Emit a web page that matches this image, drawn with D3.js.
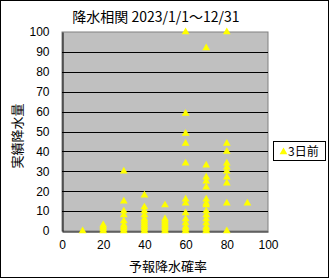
<!DOCTYPE html>
<html>
<head>
<meta charset="utf-8">
<script src="https://cdn.jsdelivr.net/npm/d3@7"></script>
<style>
  body { margin: 0; background: #fff; }
  text { font-family: "Liberation Sans", Arial, sans-serif; }
  .jp { font-family: "Noto Sans CJK JP", sans-serif; }
</style>
</head>
<body>
<div class="chart"></div>
<script>
//Data: forecast probability (%) -> observed rainfall (mm), 3 days ahead
var probs = [10, 20, 20, 20, 20,
  30, 30, 30, 30, 30, 30, 30, 30, 30,
  40, 40, 40, 40, 40, 40, 40, 40, 40, 40, 40,
  50, 50, 50, 50, 50, 50, 50, 50,
  60, 60, 60, 60, 60, 60, 60, 60, 60, 60, 60, 60, 60,
  70, 70, 70, 70, 70, 70, 70, 70, 70, 70, 70, 70, 70, 70, 70,
  80, 80, 80, 80, 80, 80, 80, 80, 80, 80,
  90];
var rain = [0, 0, 1, 2, 3,
  30, 15, 10, 8, 5, 3, 2, 1, 0,
  18, 12, 10, 8, 6, 5, 4, 3, 2, 1, 0,
  13, 6, 5, 4, 3, 2, 1, 0,
  100, 59, 49, 44, 34, 16, 14, 9, 6, 4, 2, 1, 0,
  92, 33, 27, 25, 22, 16, 14, 13, 10, 8, 6, 4, 2, 1, 0,
  100, 44, 40, 34, 32, 30, 27, 24, 14, 0,
  14];
var xTicks = [0, 20, 40, 60, 80, 100];
var yTicks = [0, 10, 20, 30, 40, 50, 60, 70, 80, 90, 100];
var seriesName = "3日前";

//Width and height
var w = 330;
var h = 279;
var plot = {left: 62, top: 32, right: 268, bottom: 231};

var svg = d3.select(".chart")
    .append("svg")
    .attr("width", w)
    .attr("height", h);

//Outer frame
svg.append("rect")
    .attr("x", 0.5).attr("y", 0.5)
    .attr("width", 328).attr("height", 277)
    .attr("fill", "#fff")
    .attr("stroke", "#000");

//Scales
var x = d3.scaleLinear().domain([0, 100]).range([plot.left, plot.right]);
var y = d3.scaleLinear().domain([0, 100]).range([plot.bottom, plot.top]);

//Plot area
svg.append("rect")
    .attr("x", plot.left).attr("y", plot.top)
    .attr("width", plot.right - plot.left)
    .attr("height", plot.bottom - plot.top)
    .attr("fill", "#c0c0c0")
    .attr("stroke", "#808080");

//Gridlines
svg.append("g")
    .selectAll("line")
    .data(yTicks.filter(d => d > 0 && d < 100))
    .join("line")
    .attr("x1", plot.left).attr("x2", plot.right)
    .attr("y1", d => Math.round(y(d)) + 0.5)
    .attr("y2", d => Math.round(y(d)) + 0.5)
    .attr("stroke", "#000");

//Y axis
svg.append("g")
    .attr("transform", "translate(" + (plot.left + 0.5) + ",0)")
    .call(d3.axisLeft(y).tickValues(yTicks).tickSize(0).tickPadding(13))
    .call(g => g.select(".domain").attr("stroke", "#000"))
    .call(g => g.selectAll("text")
        .attr("font-size", 12)
        .attr("font-family", "Liberation Sans, Arial, sans-serif")
        .attr("fill", "#000"));

//X axis
svg.append("g")
    .attr("transform", "translate(0," + (plot.bottom + 0.5) + ")")
    .call(d3.axisBottom(x).tickValues(xTicks).tickSize(0).tickPadding(9))
    .call(g => g.select(".domain").attr("stroke", "#000"))
    .call(g => g.selectAll("text")
        .attr("font-size", 12)
        .attr("font-family", "Liberation Sans, Arial, sans-serif")
        .attr("fill", "#000"));

//Markers
var tri = d3.symbol().type(d3.symbolTriangle).size(26);
svg.append("g")
    .selectAll("path")
    .data(probs.map((p, i) => [p, rain[i]]))
    .join("path")
    .attr("d", tri)
    .attr("transform", d => "translate(" + x(d[0]) + "," + y(d[1]) + ")")
    .attr("fill", "#ffff00");

//Title
svg.append("text")
    .attr("class", "jp")
    .attr("x", 156).attr("y", 22)
    .attr("text-anchor", "middle")
    .attr("font-size", 14)
    .text("降水相関 2023/1/1～12/31");

//Axis titles
svg.append("text")
    .attr("class", "jp")
    .attr("x", 168).attr("y", 271)
    .attr("text-anchor", "middle")
    .attr("font-size", 13)
    .text("予報降水確率");

svg.append("text")
    .attr("class", "jp")
    .attr("transform", "translate(22,136) rotate(-90)")
    .attr("text-anchor", "middle")
    .attr("font-size", 13)
    .text("実績降水量");

//Legend
var legend = svg.append("g").attr("transform", "translate(273, 141)");
legend.append("rect")
    .attr("x", 0.5).attr("y", 0.5)
    .attr("width", 52).attr("height", 19)
    .attr("fill", "#fff")
    .attr("stroke", "#000");
legend.append("path")
    .attr("d", tri)
    .attr("transform", "translate(10.5,11)")
    .attr("fill", "#ffff00");
legend.append("text")
    .attr("class", "jp")
    .attr("x", 15).attr("y", 15)
    .attr("font-size", 12)
    .text(seriesName);
</script>
</body>
</html>
